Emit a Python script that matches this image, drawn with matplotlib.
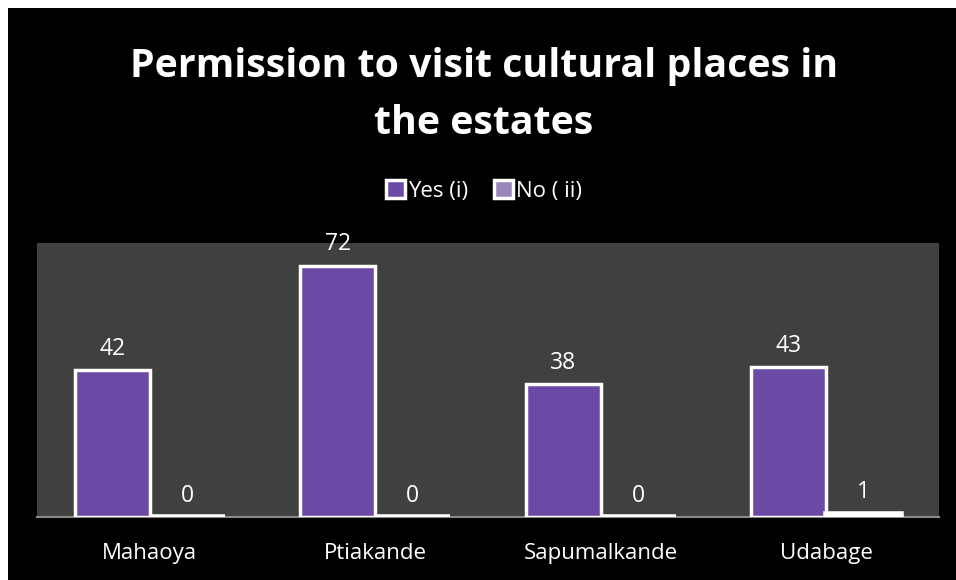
import numpy as np
import matplotlib.pyplot as plt
from matplotlib.patches import Patch

plt.rcParams['font.family'] = ['Open Sans', 'DejaVu Sans']

estates = ["Mahaoya", "Ptiakande", "Sapumalkande", "Udabage"]
yes_vals = [42, 72, 38, 43]
no_vals = [0, 0, 0, 1]

W, H = 956, 580
fig = plt.figure(figsize=(W / 100, H / 100), dpi=100)
fig.patch.set_facecolor("white")
# black chart area (white strip on left and top)
bg = fig.add_axes([8 / W, 0, 1 - 8 / W, 1 - 8 / H], zorder=-1)
bg.set_facecolor("black")
bg.set_xticks([])
bg.set_yticks([])
for s in bg.spines.values():
    s.set_visible(False)

ax = fig.add_axes([37 / W, 1 - 517 / H, (939 - 37) / W, (517 - 243) / H], zorder=1)
ax.set_facecolor("#404040")

yes_col = "#6a4aa5"
no_col = "#9a88bd"
x = np.arange(len(estates))
bw = 1 / 3
b1 = ax.bar(x - bw / 2, yes_vals, bw, color=yes_col, edgecolor="white", linewidth=2.5, zorder=3)
b2 = ax.bar(x + bw / 2, no_vals, bw, color=no_col, edgecolor="white", linewidth=4, zorder=3)

for bars, vals in [(b1, yes_vals), (b2, no_vals)]:
    for r, v in zip(bars, vals):
        ax.annotate(str(v), (r.get_x() + r.get_width() / 2, v), xytext=(0, 11),
                    textcoords="offset points", ha="center", va="baseline",
                    color="white", fontsize=16.5)

ax.set_xlim(-0.5, 3.5)
ax.set_ylim(0, 78.5)
ax.set_yticks([])
ax.set_xticks(x)
ax.set_xticklabels(estates, color="white", fontsize=16)
ax.tick_params(axis="x", length=0, pad=19)
for s in ["top", "right", "left"]:
    ax.spines[s].set_visible(False)
ax.spines["bottom"].set_color("#8a8a8a")
ax.spines["bottom"].set_linewidth(1.5)

fig.text(484 / W, 1 - 95 / H, "Permission to visit cultural places in\nthe estates",
         ha="center", va="center", color="white", fontsize=28.3, fontweight="bold",
         linespacing=1.6)

handles = [Patch(facecolor=yes_col, edgecolor="white", linewidth=2.5),
           Patch(facecolor=no_col, edgecolor="white", linewidth=2.5)]
leg = fig.legend(handles, ["Yes (i)", "No ( ii)"], loc="center", bbox_to_anchor=(484 / W, 1 - 191 / H),
                 ncol=2, frameon=False, fontsize=16, labelcolor="white",
                 handlelength=0.85, handleheight=0.85, handletextpad=0.1, columnspacing=1.2)

fig.savefig("out.png", dpi=100, facecolor=fig.get_facecolor())
